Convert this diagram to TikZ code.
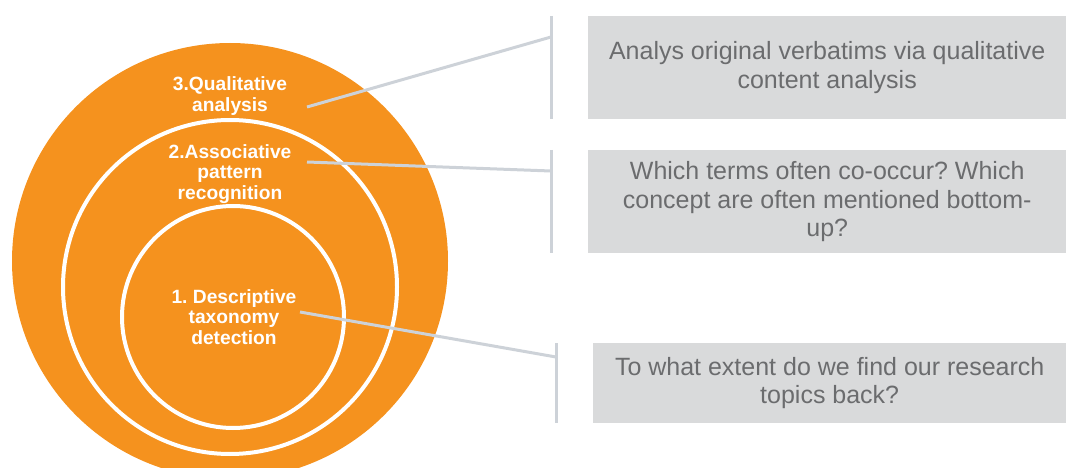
\documentclass[tikz,border=0pt]{standalone}
\usepackage{fontspec}
\setmainfont{Liberation Sans}
\usetikzlibrary{positioning}
\definecolor{ringorange}{HTML}{F5921E}
\definecolor{boxgrey}{HTML}{D9DADB}
\definecolor{boxtext}{HTML}{6B6C6E}
\definecolor{linkgrey}{HTML}{CDD2D8}
\frenchspacing

\begin{document}
\begin{tikzpicture}[x=1pt,y=-1pt,
    ring/.style={circle,draw=white,line width=4pt,inner sep=0pt},
    ring label/.style={text=white,align=center,inner sep=0pt,
                       font=\fontsize{19.2}{20.8}\selectfont\bfseries},
    answer box/.style={rectangle,fill=boxgrey,text=boxtext,align=center,
                       inner sep=0pt,anchor=north west,
                       font=\fontsize{25}{28.5}\selectfont},
    link/.style={draw=linkgrey,line width=3pt}]

  \useasboundingbox (0,0) rectangle (1066,468);

  % the three nested stages
  \node[circle,fill=ringorange,minimum size=436pt,inner sep=0pt] (outer) at (230,261) {};
  \node[ring,minimum size=334pt] (middle) at (230,287) {};
  \node[ring,minimum size=222pt] (inner) at (233,317) {};

  \node[ring label] (l3) at (230,96) {3.Qualitative\\analysis};
  \node[ring label] (l2) at (230,174) {2.Associative\\pattern\\recognition};
  \node[ring label] (l1) at (234,317) {1. Descriptive\\taxonomy\\detection};

  % questions on the right
  \node[answer box,minimum width=478pt,minimum height=103pt] (q3) at (588,16)
    {Analys original verbatims via qualitative\\content analysis};
  \node[answer box,minimum width=478pt,minimum height=103pt] (q2) at (588,150)
    {Which terms often co-occur? Which\\concept are often mentioned bottom-\\up?};
  \node[answer box,minimum width=473pt,minimum height=80pt] (q1) at (593,343)
    {To what extent do we find our research\\topics back?};

  \draw[link] ([xshift=-37pt]q3.north west) -- ([xshift=-37pt]q3.south west);
  \draw[link] ([xshift=-37pt]q2.north west) -- ([xshift=-37pt]q2.south west);
  \draw[link] ([xshift=-37pt]q1.north west) -- ([xshift=-37pt]q1.south west);

  \coordinate (a3) at (307,107);
  \coordinate (a2) at (307,162);
  \coordinate (a1) at (300,312);
  \coordinate (k3) at (551,37);
  \coordinate (k2) at (551,171);
  \coordinate (k1) at (556,357);

  \draw[link] (a3) -- (k3);
  \draw[link] (a2) -- (k2);
  \draw[link] (a1) -- (k1);
\end{tikzpicture}
\end{document}
